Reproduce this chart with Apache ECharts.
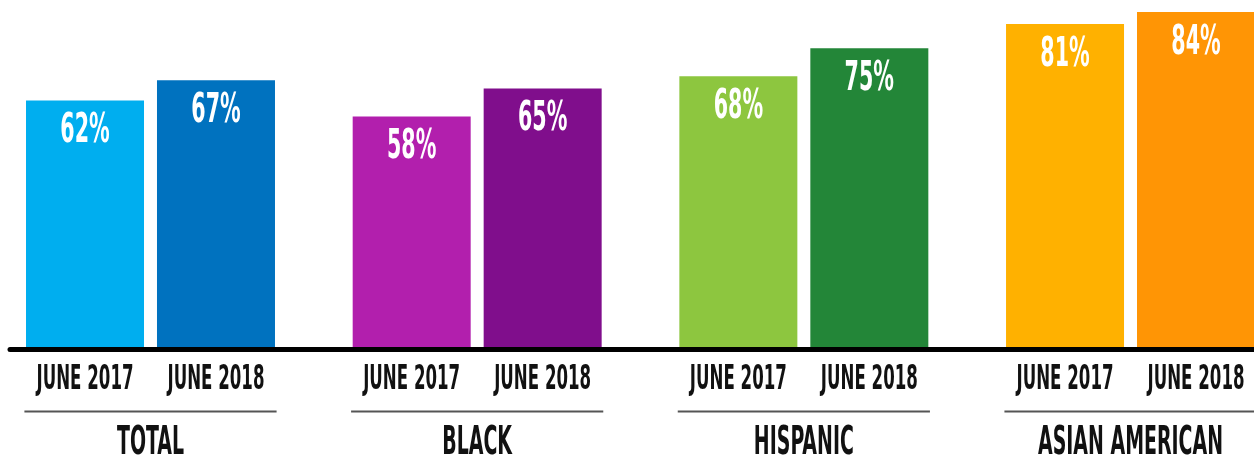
<!DOCTYPE html>
<html><head><meta charset="utf-8">
<script src="https://cdn.jsdelivr.net/npm/echarts@6/dist/echarts.min.js"></script>
<style>html,body{margin:0;padding:0;background:#fff}#c{width:1254px;height:460px}</style>
</head><body><div id="c"></div>
<script>
const categories = ['TOTAL', 'BLACK', 'HISPANIC', 'ASIAN AMERICAN'];
const periods = ['JUNE 2017', 'JUNE 2018'];
const june2017 = [62, 58, 68, 81];
const june2018 = [67, 65, 75, 84];
const colors2017 = ['#00AEEF', '#B21FAD', '#8DC63F', '#FFB100'];
const colors2018 = ['#0072BF', '#800E8C', '#238638', '#FF9505'];

const FONT = '"DejaVu Sans Condensed","Liberation Sans Narrow",sans-serif';
const BAR_W = 118, GAP_PCT = 0.11;
const HALF = (BAR_W + BAR_W * GAP_PCT) / 2;

const labelData = [];
june2017.forEach((v, i) => labelData.push([i, 0, v]));
june2018.forEach((v, i) => labelData.push([i, 1, v]));
const axisTextData = categories.map((c, i) => [i, 0]);

const chart = echarts.init(document.getElementById('c'), null, { renderer: 'canvas' });
chart.setOption({
  animation: false,
  grid: { left: 10, right: 0, top: 0, bottom: 110.5 },
  xAxis: {
    type: 'value', min: -0.4301, max: 3.378, z: 10,
    axisLine: { show: true, lineStyle: { color: '#000', width: 5 } },
    axisTick: { show: false }, axisLabel: { show: false }, splitLine: { show: false }
  },
  yAxis: { type: 'value', min: 0, max: 87, show: false },
  series: [
    { type: 'bar', name: periods[0], barWidth: BAR_W, barGap: (GAP_PCT * 100) + '%',
      data: june2017.map((v, i) => ({ value: [i, v], itemStyle: { color: colors2017[i] } })) },
    { type: 'bar', name: periods[1], barWidth: BAR_W, barGap: (GAP_PCT * 100) + '%',
      data: june2018.map((v, i) => ({ value: [i, v], itemStyle: { color: colors2018[i] } })) },
    { type: 'custom', data: labelData, encode: { x: 0, y: 2 }, z: 5, silent: true,
      renderItem: (params, api) => {
        const g = api.value(0), k = api.value(1), v = api.value(2);
        const p = api.coord([g, v]);
        return { type: 'text', x: p[0] + (k === 0 ? -HALF : HALF), y: p[1] + 31, scaleX: 0.56,
          style: { text: v + '%', fill: '#fff', font: 'bold 41px ' + FONT, align: 'center', verticalAlign: 'middle' } };
      } },
    { type: 'custom', data: axisTextData, encode: { x: 0, y: 1 }, z: 5, silent: true,
      renderItem: (params, api) => {
        const g = api.value(0);
        const p = api.coord([g, 0]);
        const cx = p[0], by = p[1];
        const sepHalf = api.size([1, 0])[0] * 0.386;
        return { type: 'group', children: [
          { type: 'text', x: cx - HALF, y: by + 31, scaleX: 0.56,
            style: { text: periods[0], fill: '#111', font: 'bold 33px ' + FONT, align: 'center', verticalAlign: 'middle' } },
          { type: 'text', x: cx + HALF, y: by + 31, scaleX: 0.56,
            style: { text: periods[1], fill: '#111', font: 'bold 33px ' + FONT, align: 'center', verticalAlign: 'middle' } },
          { type: 'line', shape: { x1: cx - sepHalf, y1: by + 62, x2: cx + sepHalf, y2: by + 62 },
            style: { stroke: '#555', lineWidth: 2 } },
          { type: 'text', x: cx, y: by + 94.5, scaleX: 0.54,
            style: { text: categories[g], fill: '#111', font: 'bold 39px ' + FONT, align: 'center', verticalAlign: 'middle' } }
        ] };
      } }
  ]
});
</script>
</body></html>
